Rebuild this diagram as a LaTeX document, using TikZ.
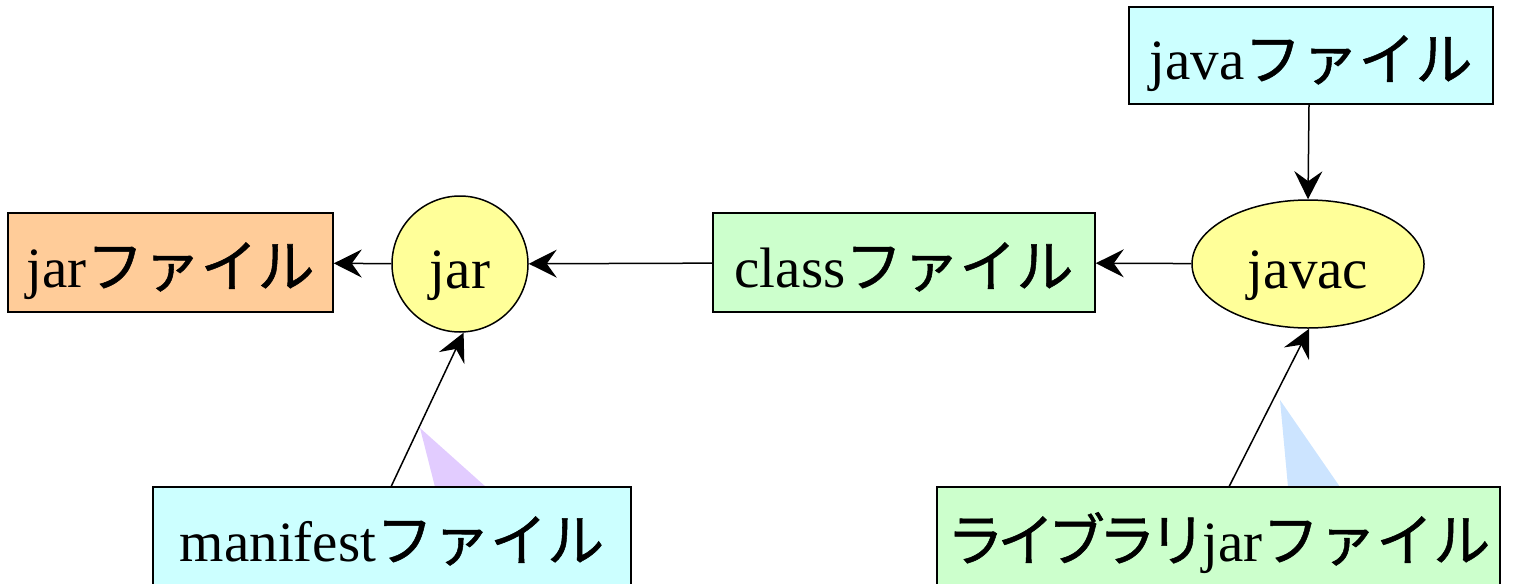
\documentclass[tikz,border=0pt]{standalone}
\usepackage{fontspec}
\setmainfont{Liberation Serif}
\newfontfamily\jp[FakeBold=0.9]{Noto Sans CJK JP}
\usetikzlibrary{shapes.geometric,arrows.meta,calc}
\definecolor{orangefill}{HTML}{FFCC99}
\definecolor{greenfill}{HTML}{CCFFCC}
\definecolor{cyanfill}{HTML}{CCFFFF}
\definecolor{yellowfill}{HTML}{FFFF99}
\definecolor{lavender}{HTML}{E2CCFF}
\definecolor{skyblue}{HTML}{CCE4FF}
\tikzset{
  label text/.style={font=\fontsize{28.5}{30}\selectfont, text height=26pt, text depth=1.5pt},
  filebox/.style={draw, line width=0.75pt, rectangle, minimum height=49.5pt, inner sep=0pt, label text},
  tool/.style={draw, line width=0.75pt, fill=yellowfill, inner sep=0pt, label text},
  flow/.style={line width=0.75pt, -{Stealth[length=14pt, width=14pt, inset=5pt]}},
}
\newcommand{\fil}{{\jp ファイル}}
\newcommand{\lib}{{\jp ラ\kern-3.2ptイ\kern-3.2ptブ\kern-3.2ptラ\kern-3.2ptリ}\kern-2pt}
\begin{document}
\begin{tikzpicture}[x=0.5pt, y=-0.5pt]
\useasboundingbox (0,0) rectangle (1513,583);
% soft wedges behind the lower connectors
\fill[lavender] (420,428) -- (486,487) -- (435,487) -- cycle;
\fill[skyblue] (1280,400) -- (1340,487) -- (1288,487) -- cycle;
% nodes
\node[filebox, fill=orangefill, minimum width=162.5pt] (jarf) at (170.5,262.5) {jar\fil};
\node[tool, circle, minimum size=68pt] (jar) at (460,264) {jar};
\node[filebox, fill=greenfill, minimum width=191pt] (classf) at (904,262.5) {class\fil};
\node[tool, ellipse, minimum width=116pt, minimum height=64pt] (javac) at (1308,264) {javac};
\node[filebox, fill=cyanfill, minimum width=182pt, minimum height=48.5pt] (javaf) at (1311,55.5) {java\fil};
\node[filebox, fill=cyanfill, minimum width=239pt] (manf) at (392,536.5) {manifest\fil};
\node[filebox, fill=greenfill, minimum width=281.5pt] (libf) at (1218.5,536.5) {\lib jar\fil};
% tails of the slanted connectors
\coordinate (mtail) at ([xshift=119.5pt]manf.north west);
\coordinate (ltail) at ([xshift=146.5pt]libf.north west);
\coordinate (jtail) at ([xshift=-1pt]javaf.south);
% connectors
\draw[flow] (jar) -- (jarf);
\draw[flow] (classf) -- (jar);
\draw[flow] (javac) -- (classf);
\draw[flow] (jtail) -- (javac.north);
\draw[flow] (mtail) -- (jar.-87);
\draw[flow] (ltail) -- (javac.-89);
\end{tikzpicture}
\end{document}
